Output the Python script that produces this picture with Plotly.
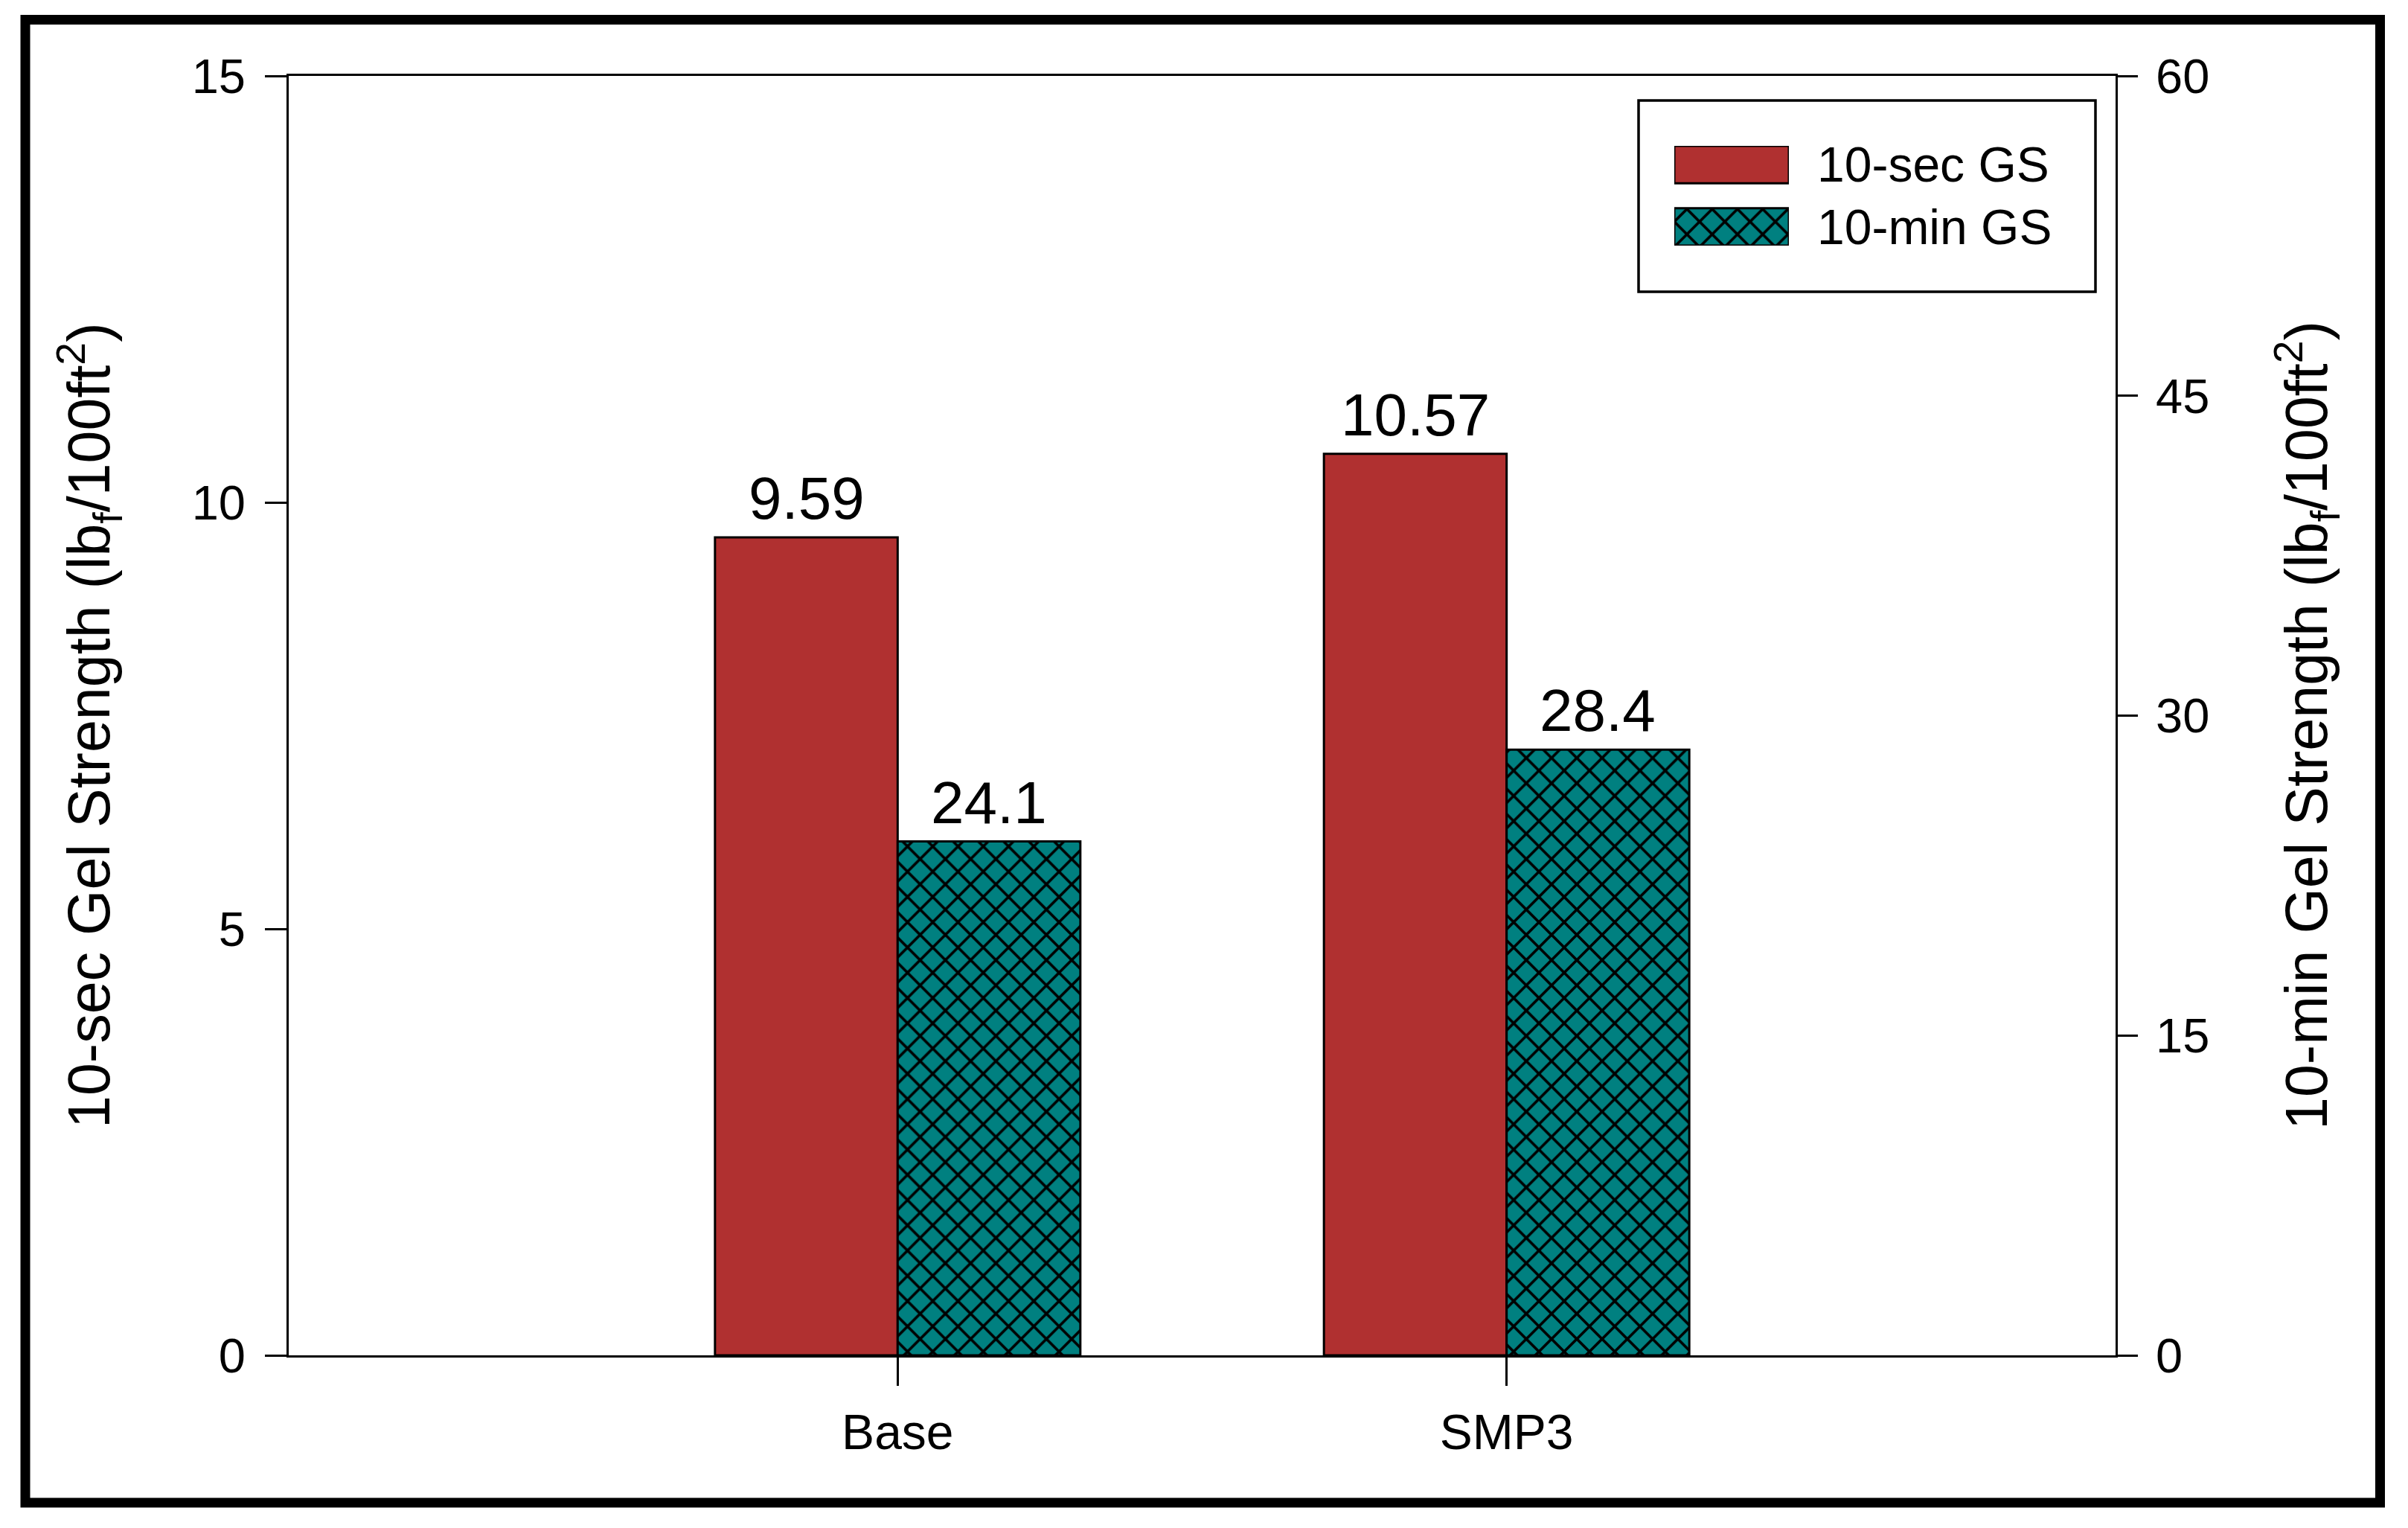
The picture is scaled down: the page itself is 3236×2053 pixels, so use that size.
import plotly.graph_objects as go

# ---- data ----
categories = ["Base", "SMP3"]
gs_10sec = [9.59, 10.57]
gs_10min = [24.1, 28.4]
series_names = ["10-sec GS", "10-min GS"]
left_ticks = [0, 5, 10, 15]
right_ticks = [0, 15, 30, 45, 60]

# ---- styling / geometry constants ----
W, H = 3236, 2053
L, R, T, B = 388, 2843, 102, 1821
PW, PH = R - L, B - T
RED = "#B03030"
TEAL = "#008080"
FONT = "Arial, Liberation Sans, sans-serif"
BAR_W = 0.3


def px2x(px):
    return (px - L) / PW


def py2y(py):
    return (B - py) / PH


pattern = dict(shape="x", fgcolor="black", bgcolor=TEAL, size=24, solidity=0.28, fillmode="replace")

fig = go.Figure()
fig.add_trace(go.Bar(
    x=categories, y=gs_10sec, name=series_names[0], yaxis="y",
    width=BAR_W, offset=-BAR_W,
    marker=dict(color=RED, line=dict(color="black", width=3)),
    showlegend=False,
))
fig.add_trace(go.Bar(
    x=categories, y=gs_10min, name=series_names[1], yaxis="y2",
    width=BAR_W, offset=0,
    marker=dict(color=TEAL, line=dict(color="black", width=3), pattern=pattern),
    showlegend=False,
))

# legend swatches as a small inset (horizontal bars)
fig.add_trace(go.Bar(
    y=[series_names[0]], x=[1], orientation="h", xaxis="x3", yaxis="y3",
    width=0.6, marker=dict(color=RED, line=dict(color="black", width=3)),
    showlegend=False, hoverinfo="skip",
))
fig.add_trace(go.Bar(
    y=[series_names[1]], x=[1], orientation="h", xaxis="x3", yaxis="y3",
    width=0.6, marker=dict(color=TEAL, line=dict(color="black", width=3), pattern=pattern),
    showlegend=False, hoverinfo="skip",
))

annotations = []
# value labels
for i, v in enumerate(gs_10sec):
    annotations.append(dict(x=i - BAR_W / 2, y=v, xref="x", yref="y", text=f"{v:.2f}",
                            showarrow=False, yanchor="bottom", xanchor="center", yshift=6,
                            font=dict(family=FONT, size=80, color="black")))
for i, v in enumerate(gs_10min):
    annotations.append(dict(x=i + BAR_W / 2, y=v, xref="x", yref="y2", text=f"{v:.1f}",
                            showarrow=False, yanchor="bottom", xanchor="center", yshift=6,
                            font=dict(family=FONT, size=80, color="black")))
# legend text
for name in series_names:
    annotations.append(dict(x=1, y=name, xref="x3", yref="y3", text=name, showarrow=False,
                            xanchor="left", yanchor="middle", xshift=36,
                            font=dict(family=FONT, size=66, color="black")))
# axis titles
annotations.append(dict(x=px2x(120), y=py2y(975), xref="paper", yref="paper",
                        text="10-sec Gel Strength (lb<sub>f</sub>/100ft<sup>2</sup>)",
                        textangle=-90, showarrow=False, xanchor="center", yanchor="middle",
                        font=dict(family=FONT, size=79, color="black")))
annotations.append(dict(x=px2x(3100), y=py2y(975), xref="paper", yref="paper",
                        text="10-min Gel Strength (lb<sub>f</sub>/100ft<sup>2</sup>)",
                        textangle=-90, showarrow=False, xanchor="center", yanchor="middle",
                        font=dict(family=FONT, size=79, color="black")))

shapes = [
    # outer frame
    dict(type="rect", xref="paper", yref="paper",
         x0=px2x(34), x1=px2x(3198.5), y0=py2y(2019), y1=py2y(26.5),
         line=dict(color="black", width=13), fillcolor="rgba(0,0,0,0)", layer="above"),
    # legend box
    dict(type="rect", xref="paper", yref="paper",
         x0=px2x(2202), x1=px2x(2816), y0=py2y(392), y1=py2y(135),
         line=dict(color="black", width=3.5), fillcolor="rgba(0,0,0,0)", layer="above"),
]

axis_common = dict(showline=True, linecolor="black", linewidth=3, ticks="outside",
                   tickcolor="black", tickwidth=3, showgrid=False, zeroline=False)

fig.update_layout(
    width=W, height=H, autosize=False,
    margin=dict(l=L, r=W - R, t=T, b=H - B, pad=0),
    paper_bgcolor="white", plot_bgcolor="white",
    barmode="overlay", showlegend=False,
    font=dict(family=FONT, color="black"),
    xaxis=dict(type="category", categoryorder="array", categoryarray=categories,
               range=[-1, 2], mirror=True, ticklen=38,
               tickfont=dict(family=FONT, size=66), ticklabelstandoff=6, **axis_common),
    yaxis=dict(range=[0, 15], tickvals=left_ticks, ticklen=29,
               tickfont=dict(family=FONT, size=65), ticklabelstandoff=13, **axis_common),
    yaxis2=dict(range=[0, 60], tickvals=right_ticks, ticklen=27, overlaying="y", side="right",
                tickfont=dict(family=FONT, size=65), ticklabelstandoff=11, **axis_common),
    xaxis3=dict(domain=[px2x(2250), px2x(2404)], anchor="y3", range=[0, 1], visible=False,
                fixedrange=True),
    yaxis3=dict(domain=[py2y(330), py2y(196)], anchor="x3", type="category",
                categoryorder="array", categoryarray=series_names,
                range=[1.3, -0.3], visible=False, fixedrange=True),
    annotations=annotations,
    shapes=shapes,
)

fig.write_html("out.html", config={"displayModeBar": False},
               post_script="document.body.style.margin='0';document.body.style.overflow='hidden';")
